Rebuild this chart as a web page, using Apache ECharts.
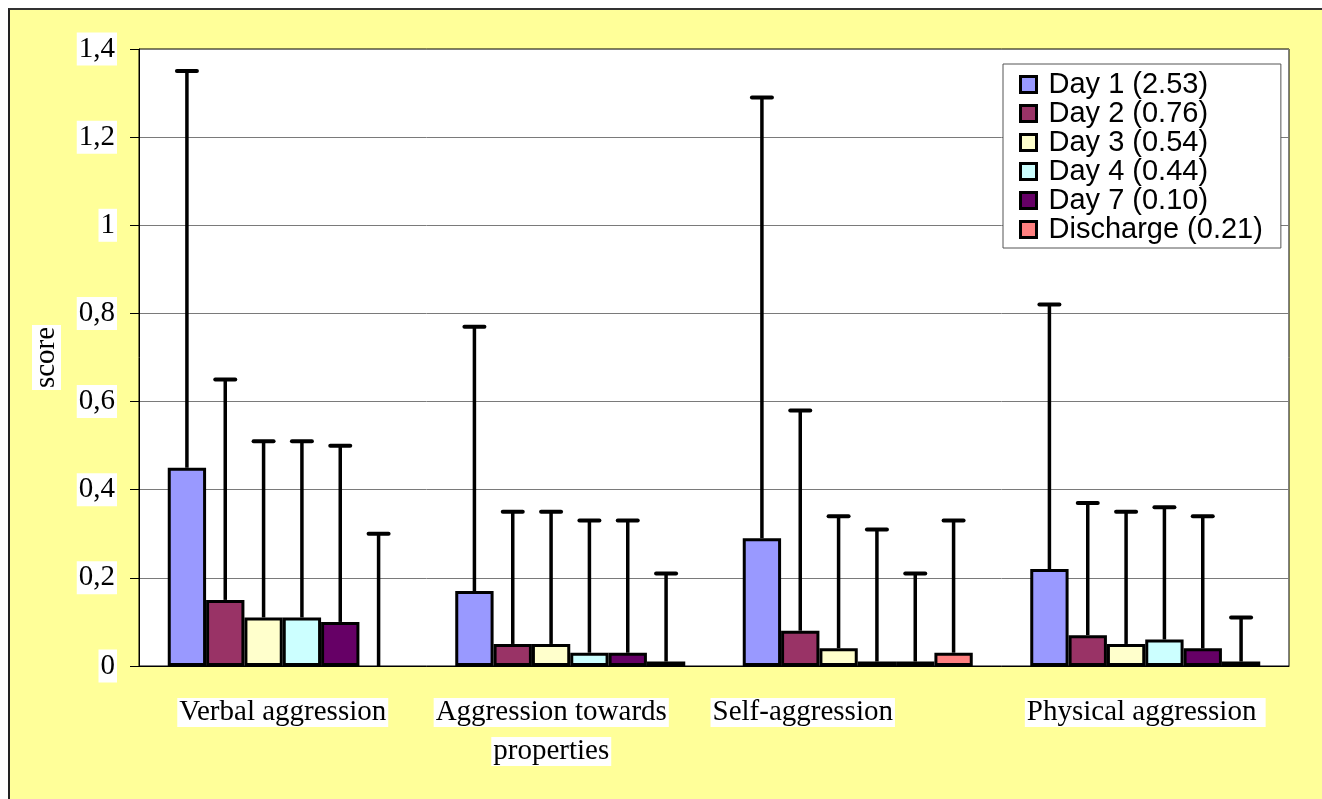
<!DOCTYPE html>
<html>
<head>
<meta charset="utf-8">
<script src="https://cdn.jsdelivr.net/npm/echarts@6/dist/echarts.min.js"></script>
<style>
  html, body { margin: 0; padding: 0; background: #ffffff; }
  #bg { position: absolute; left: 8px; top: 8px; width: 1314px; height: 791px; background: #FFFF99; border-top: 2px solid #333; border-left: 2px solid #222; box-sizing: border-box; }
  #main { position: absolute; left: 0; top: 0; width: 1322px; height: 799px; }
</style>
</head>
<body>
<div id="bg"></div>
<div id="main"></div>
<script>
// ---- data ----
const categories = ['Verbal aggression', 'Aggression towards\nproperties', 'Self-aggression', 'Physical aggression '];
const seriesNames = ['Day 1 (2.53)', 'Day 2 (0.76)', 'Day 3 (0.54)', 'Day 4 (0.44)', 'Day 7 (0.10)', 'Discharge (0.21)'];
const day1 = [0.45, 0.17, 0.29, 0.22];
const day2 = [0.15, 0.05, 0.08, 0.07];
const day3 = [0.11, 0.05, 0.04, 0.05];
const day4 = [0.11, 0.03, 0.01, 0.06];
const day7 = [0.10, 0.03, 0.01, 0.04];
const discharge = [0, 0.01, 0.03, 0.01];
// upper end of error bars (mean + SD)
const day1Err = [1.35, 0.77, 1.29, 0.82];
const day2Err = [0.65, 0.35, 0.58, 0.37];
const day3Err = [0.51, 0.35, 0.34, 0.35];
const day4Err = [0.51, 0.33, 0.31, 0.36];
const day7Err = [0.50, 0.33, 0.21, 0.34];
const dischargeErr = [0.30, 0.21, 0.33, 0.11];
const yTicks = [0, 0.2, 0.4, 0.6, 0.8, 1, 1.2, 1.4];

// ---- styles ----
const colors = ['#9999FF', '#993366', '#FFFFCC', '#CCFFFF', '#660066', '#FF8080'];
const labelShift = [0, 38, 110, 0]; // spacer widths to mimic original label placement
const values = [day1, day2, day3, day4, day7, discharge];
const errs = [day1Err, day2Err, day3Err, day4Err, day7Err, dischargeErr];
const nSeries = values.length;

const serif = '"Liberation Serif", "Times New Roman", serif';
const sans = '"Liberation Sans", Arial, sans-serif';

const barSeries = seriesNames.map((name, s) => ({
  name: name,
  type: 'bar',
  data: values[s].map(v => v === 0 ? { value: v, itemStyle: { borderWidth: 0 } } : v),
  barGap: '0%',
  barCategoryGap: '20%',
  itemStyle: { color: colors[s], borderColor: '#000', borderWidth: 3 },
  z: 2
}));

const errData = [];
for (let s = 0; s < nSeries; s++) {
  for (let i = 0; i < categories.length; i++) {
    errData.push([i, values[s][i], errs[s][i], s]);
  }
}

const errSeries = {
  type: 'custom',
  name: 'err',
  data: errData,
  encode: { x: 0, y: 2 },
  z: 5,
  silent: true,
  renderItem: function (params, api) {
    const i = api.value(0), v = api.value(1), top = api.value(2), s = api.value(3);
    const band = api.size([1, 0])[0];
    const bw = band * 0.8 / nSeries;
    const cx = api.coord([i, 0])[0] + (s - (nSeries - 1) / 2) * bw;
    const y1 = api.coord([i, v])[1];
    const y2 = api.coord([i, top])[1];
    const capHalf = 10;
    return {
      type: 'group',
      children: [
        { type: 'line', shape: { x1: cx, y1: y1, x2: cx, y2: y2 }, style: { stroke: '#000', lineWidth: 3.5 } },
        { type: 'line', shape: { x1: cx - capHalf, y1: y2, x2: cx + capHalf, y2: y2 }, style: { stroke: '#000', lineWidth: 4, lineCap: 'round' } }
      ]
    };
  }
};

const chart = echarts.init(document.getElementById('main'));
chart.setOption({
  animation: false,
  backgroundColor: 'transparent',
  grid: { left: 139, top: 49, right: 33, bottom: 133, show: true, backgroundColor: '#ffffff', borderColor: '#000', borderWidth: 1 },
  legend: {
    data: seriesNames,
    orient: 'vertical',
    left: 1003,
    top: 64,
    backgroundColor: '#ffffff',
    borderColor: '#555',
    borderWidth: 1,
    padding: [6, 18, 4, 16],
    itemGap: 0,
    itemWidth: 16,
    itemHeight: 16,
    icon: 'rect',
    selectedMode: false,
    itemStyle: { borderColor: '#000', borderWidth: 3 },
    textStyle: { fontFamily: sans, fontSize: 29, color: '#000', lineHeight: 29, padding: [0, 0, 0, 7] }
  },
  xAxis: {
    type: 'category',
    data: categories,
    axisLine: { show: true, lineStyle: { color: '#000', width: 1 } },
    axisTick: { show: false },
    axisLabel: {
      margin: 27,
      interval: 0,
      formatter: function (val, idx) {
        const sp = labelShift[idx] || 0;
        return val.split('\n').map(line => sp ? '{a|' + line + '}{s' + idx + '|}' : '{a|' + line + '}').join('\n');
      },
      rich: {
        a: { fontFamily: serif, fontSize: 29, color: '#000', backgroundColor: '#fff', lineHeight: 39, padding: [0, 2, 0, 2] },
        s1: { width: labelShift[1], lineHeight: 39 },
        s2: { width: labelShift[2], lineHeight: 39 }
      }
    }
  },
  yAxis: {
    type: 'value',
    min: 0,
    max: 1.4,
    interval: 0.2,
    name: 'score',
    nameLocation: 'middle',
    nameRotate: 90,
    nameGap: 78,
    nameTextStyle: { fontFamily: serif, fontSize: 29, color: '#000', backgroundColor: '#fff', padding: [0, 2, 0, 2] },
    axisLine: { show: true, lineStyle: { color: '#000', width: 1 } },
    axisTick: { show: true, inside: false, length: 9, lineStyle: { color: '#000' } },
    splitLine: { show: true, lineStyle: { color: '#7a7a7a', width: 1 } },
    axisLabel: {
      margin: 22,
      fontFamily: serif,
      fontSize: 29,
      color: '#000',
      backgroundColor: '#fff',
      padding: [2, 2, 2, 2],
      formatter: function (v) {
        const t = yTicks.find(x => Math.abs(x - v) < 1e-6);
        const val = t === undefined ? v : t;
        return String(val).replace('.', ',');
      }
    }
  },
  series: barSeries.concat([errSeries])
});
</script>
</body>
</html>
